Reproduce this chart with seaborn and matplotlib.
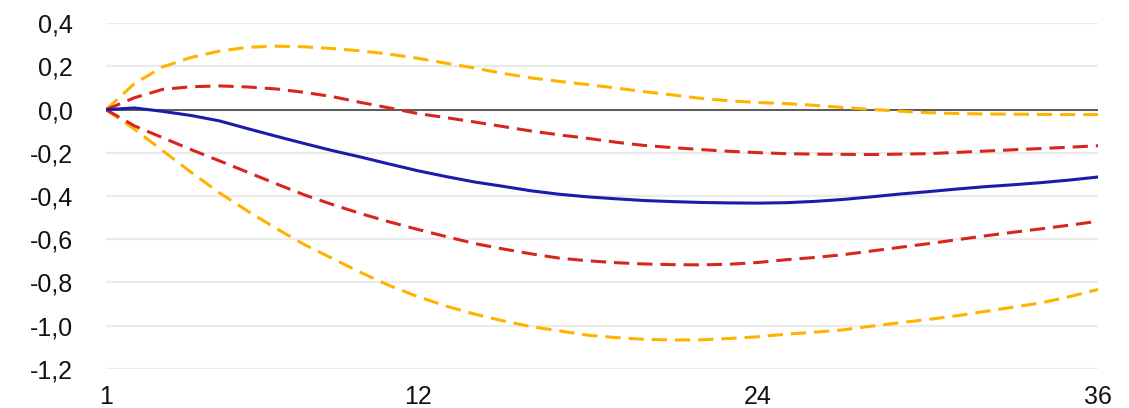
import numpy as np
import pandas as pd
import matplotlib
matplotlib.use("Agg")
import matplotlib.pyplot as plt
import seaborn as sns

# Impulse response horizon (months)
months = list(range(1, 37))

# Median response
median = [0.000, 0.008, -0.008, -0.027, -0.052, -0.088, -0.123, -0.157, -0.190, -0.220,
          -0.252, -0.283, -0.310, -0.335, -0.355, -0.376, -0.392, -0.404, -0.413, -0.421,
          -0.426, -0.430, -0.432, -0.433, -0.431, -0.425, -0.416, -0.404, -0.391, -0.380,
          -0.368, -0.357, -0.348, -0.338, -0.326, -0.312]

# Inner confidence band
inner_upper = [0.000, 0.055, 0.094, 0.106, 0.110, 0.105, 0.096, 0.080, 0.060, 0.033,
               0.008, -0.018, -0.037, -0.057, -0.078, -0.099, -0.117, -0.133, -0.151, -0.166,
               -0.176, -0.185, -0.193, -0.199, -0.204, -0.206, -0.207, -0.208, -0.206, -0.204,
               -0.198, -0.192, -0.186, -0.180, -0.174, -0.167]
inner_lower = [0.000, -0.075, -0.130, -0.185, -0.237, -0.290, -0.343, -0.395, -0.440, -0.482,
               -0.520, -0.555, -0.588, -0.620, -0.645, -0.668, -0.688, -0.700, -0.709, -0.715,
               -0.718, -0.719, -0.716, -0.708, -0.695, -0.685, -0.672, -0.655, -0.638, -0.621,
               -0.603, -0.585, -0.568, -0.552, -0.535, -0.517]

# Outer confidence band
outer_upper = [0.000, 0.120, 0.198, 0.242, 0.271, 0.289, 0.294, 0.291, 0.283, 0.272,
               0.257, 0.238, 0.215, 0.193, 0.168, 0.147, 0.131, 0.116, 0.100, 0.083,
               0.068, 0.052, 0.041, 0.033, 0.028, 0.020, 0.010, 0.001, -0.007, -0.014,
               -0.018, -0.020, -0.021, -0.022, -0.023, -0.023]
outer_lower = [0.000, -0.090, -0.190, -0.290, -0.385, -0.470, -0.550, -0.625, -0.690, -0.755,
               -0.815, -0.866, -0.910, -0.947, -0.978, -1.005, -1.025, -1.045, -1.056, -1.064,
               -1.067, -1.066, -1.060, -1.052, -1.040, -1.031, -1.020, -1.003, -0.987, -0.972,
               -0.955, -0.935, -0.915, -0.895, -0.866, -0.833]

x_ticks = [1, 12, 24, 36]
y_ticks = [0.4, 0.2, 0.0, -0.2, -0.4, -0.6, -0.8, -1.0, -1.2]

series = {
    "outer_upper": outer_upper,
    "outer_lower": outer_lower,
    "inner_upper": inner_upper,
    "inner_lower": inner_lower,
    "median": median,
}
df = pd.concat(
    [pd.DataFrame({"month": months, "value": vals, "series": name}) for name, vals in series.items()],
    ignore_index=True,
)

palette = {
    "outer_upper": "#ffb300",
    "outer_lower": "#ffb300",
    "inner_upper": "#d8261c",
    "inner_lower": "#d8261c",
    "median": "#1c1caa",
}
dashes = {
    "outer_upper": (5, 2.6),
    "outer_lower": (5, 2.6),
    "inner_upper": (5, 2.6),
    "inner_lower": (5, 2.6),
    "median": "",
}

sns.set_theme(style="white")
plt.rcParams["font.family"] = ["Liberation Sans", "DejaVu Sans"]

fig = plt.figure(figsize=(11.29, 4.08), dpi=100)
ax = fig.add_axes([106 / 1129, 1 - 368.7 / 408, (1098 - 106) / 1129, (368.7 - 23.3) / 408])

# Horizontal grid
for yv in y_ticks:
    ax.axhline(yv, color="#ebebeb", lw=1.6, zorder=0)
ax.axhline(0.0, color="#333333", lw=1.1, zorder=1)

sns.lineplot(
    data=df, x="month", y="value", hue="series", style="series",
    palette=palette, dashes=dashes, linewidth=2.2, legend=False, ax=ax, zorder=3,
)

ax.set_xlim(1, 36)
ax.set_ylim(-1.2, 0.4)
ax.set_xticks(x_ticks)
ax.set_xticklabels([str(t) for t in x_ticks])
ax.set_yticks(y_ticks)
ax.set_yticklabels([f"{t:.1f}".replace(".", ",") for t in y_ticks])
ax.set_xlabel("")
ax.set_ylabel("")

for side in ["top", "right", "left"]:
    ax.spines[side].set_visible(False)
ax.spines["bottom"].set_position(("outward", 8))
ax.spines["bottom"].set_visible(False)

ax.tick_params(axis="x", length=3, width=0.8, color="#bbbbbb", pad=0.5, labelsize=18, labelcolor="#111111")
ax.tick_params(axis="y", length=0, pad=24, labelsize=18, labelcolor="#111111")

fig.savefig("out.png", dpi=100)
